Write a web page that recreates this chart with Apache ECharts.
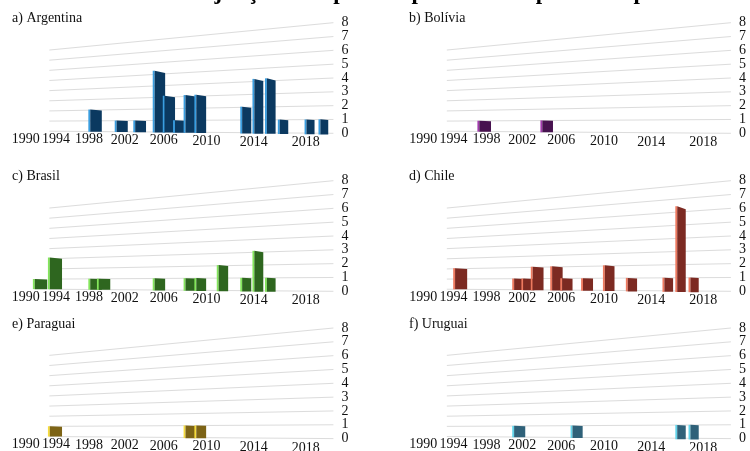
<!DOCTYPE html>
<html><head><meta charset="utf-8">
<style>html,body{margin:0;padding:0;background:#fff}#c{width:750px;height:451px;filter:blur(0.45px)}</style>
<script src="https://cdn.jsdelivr.net/npm/echarts@6/dist/echarts.min.js"></script>
</head><body><div id="c"></div>
<script>
// --- chart data ---
const yearTicks = [1990,1994,1998,2002,2006,2010,2014,2018];
const valueTicks = [0,1,2,3,4,5,6,7,8];
const argentinaYears = [1999,2002,2004,2006,2007,2008,2009,2010,2014,2015,2016,2017,2019,2020];
const argentinaValues = [2,1,1,5,3,1,3,3,2,4,4,1,1,1];
const boliviaYears = [1998,2005];
const boliviaValues = [1,1];
const brasilYears = [1992,1994,1999,2000,2006,2009,2010,2012,2014,2015,2016];
const brasilValues = [1,3,1,1,1,1,1,2,1,3,1];
const chileYears = [1995,2002,2003,2004,2006,2007,2009,2011,2013,2016,2017,2018];
const chileValues = [2,1,1,2,2,1,1,2,1,1,6,1];
const paraguaiYears = [1994,2009,2010];
const paraguaiValues = [1,1,1];
const uruguaiYears = [2002,2008,2017,2018];
const uruguaiValues = [1,1,1,1];
const panelTitles = ['a) Argentina','b) Bolívia','c) Brasil','d) Chile','e) Paraguai','f) Uruguai'];
const clippedTitle = 'Gráfico 5 – Conjunção com parcela presidencial por ano e país';

// --- layout and style ---
const FONT = '"Liberation Serif","Times New Roman",serif';
const panels = [
  {left:25.7, top:22.7,  years:argentinaYears, values:argentinaValues, face:'#0b3960', side:'#3a9ee0', tx:12,  ty:19},
  {left:423.2,top:22.7,  years:boliviaYears,   values:boliviaValues,   face:'#47124f', side:'#a23bad', tx:409, ty:19},
  {left:25.7, top:180.7, years:brasilYears,    values:brasilValues,    face:'#2e661f', side:'#84e65c', tx:12,  ty:177},
  {left:423.2,top:180.7, years:chileYears,     values:chileValues,     face:'#7c2a22', side:'#ee7a60', tx:409, ty:177},
  {left:25.7, top:328.0, years:paraguaiYears,  values:paraguaiValues,  face:'#7d6416', side:'#f6dc3c', tx:12,  ty:325},
  {left:423.2,top:328.0, years:uruguaiYears,   values:uruguaiValues,   face:'#2f6179', side:'#62d4ea', tx:409, ty:325}
];
const GRID_W = 307.7, GRID_H = 110.6;
// perspective of the picture: equal years get wider to the right, the wall narrows to the left
const warp = y => { const u = y - 1990; return u / (1 - 0.0097 * u); };
const X_MAX = 43.74, WALL_START = 3.365;
const across = x => (x - WALL_START) / (X_MAX - WALL_START);
const lift = (x, v) => { const s = across(x); return (0.15 + v * 0.734) * (1 - s) + v * s; };

const grid = [], xAxis = [], yAxis = [], series = [], graphic = [];
panels.forEach((p, i) => {
  grid.push({left:p.left, top:p.top, width:GRID_W, height:GRID_H});
  xAxis.push({gridIndex:i, type:'value', min:0, max:X_MAX, show:false});
  yAxis.push({gridIndex:i, type:'value', position:'right', min:0, max:8, interval:1,
    splitLine:{show:false}, axisLine:{show:false}, axisTick:{show:false},
    axisLabel:{margin:8, fontFamily:FONT, fontSize:14, color:'#111'}});
  // slanted wall lines
  series.push({type:'custom', xAxisIndex:i, yAxisIndex:i, silent:true, clip:false, z:1,
    data:valueTicks.map(v => [v]),
    renderItem(params, api){
      const v = api.value(0);
      const a = api.coord([WALL_START, lift(WALL_START, v)]);
      const b = api.coord([X_MAX, lift(X_MAX, v)]);
      return {type:'line', shape:{x1:a[0],y1:a[1],x2:b[0],y2:b[1]}, style:{stroke:'#dcdcdc', lineWidth:1}};
    }});
  // year labels following the floor
  series.push({type:'custom', xAxisIndex:i, yAxisIndex:i, silent:true, clip:false, z:3,
    data:yearTicks.map(y => [y]),
    renderItem(params, api){
      const y = api.value(0), x = warp(y);
      const c = api.coord([x * 1.036, lift(x, 0)]);
      return {type:'text', x:c[0], y:c[1] + 8 + 2 * across(x),
        style:{text:String(y), fontFamily:FONT, fontSize:14, fill:'#111', textAlign:'center', textVerticalAlign:'middle'}};
    }});
  // bars
  series.push({type:'custom', xAxisIndex:i, yAxisIndex:i, silent:true, clip:false, z:2,
    data:p.years.map((y, k) => [y, p.values[k]]),
    renderItem(params, api){
      const x = warp(api.value(0)), v = api.value(1);
      const s = across(x), w = 14.2 - 4.6 * s;
      const tl = v * (1 + 0.012 * v), tr = tl - 0.04 * v;
      const c = api.coord([x, lift(x, 0)])[0];
      const yAt = val => api.coord([x, lift(x, val)])[1];
      const base = yAt(-0.1 * s), l = c - w / 2, r = c + w / 2, sw = 1.9;
      return {type:'group', children:[
        {type:'polygon', shape:{points:[[l,yAt(tl)],[l+sw,yAt(tl)],[l+sw,base],[l,base]]}, style:{fill:p.side}},
        {type:'polygon', shape:{points:[[l+sw,yAt(tl)],[r,yAt(tr)],[r,base],[l+sw,base]]}, style:{fill:p.face}}
      ]};
    }});
  graphic.push({type:'text', left:p.tx, top:p.ty - 8,
    style:{text:panelTitles[i], fontFamily:FONT, fontSize:14, fill:'#111'}});
});
graphic.push({type:'text', left:58, top:-18,
  style:{text:clippedTitle, fontFamily:FONT, fontWeight:'bold', fontSize:23, fill:'#000'}});

const chart = echarts.init(document.getElementById('c'), null, {renderer:'canvas'});
chart.setOption({animation:false, backgroundColor:'#fff', grid, xAxis, yAxis, series, graphic});
</script></body></html>
